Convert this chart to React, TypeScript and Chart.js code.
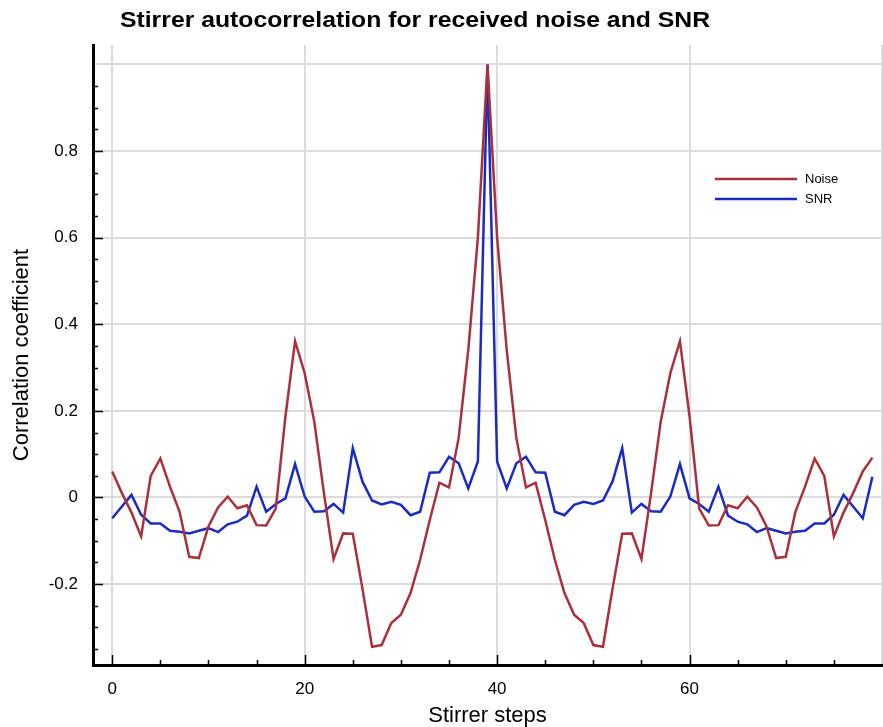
import React, { useEffect, useRef } from "react";
import { Chart, registerables } from "chart.js";

Chart.register(...registerables);

const steps = [
  0, 1, 2, 3, 4, 5, 6, 7, 8, 9, 10, 11, 12, 13, 14, 15, 16, 17, 18, 19,
  20, 21, 22, 23, 24, 25, 26, 27, 28, 29, 30, 31, 32, 33, 34, 35, 36, 37, 38, 39,
  40, 41, 42, 43, 44, 45, 46, 47, 48, 49, 50, 51, 52, 53, 54, 55, 56, 57, 58, 59,
  60, 61, 62, 63, 64, 65, 66, 67, 68, 69, 70, 71, 72, 73, 74, 75, 76, 77, 78, 79,
];

const noise = [
  0.06, 0.01, -0.035, -0.09, 0.05, 0.09, 0.025, -0.033, -0.137, -0.14,
  -0.067, -0.023, 0.002, -0.025, -0.018, -0.064, -0.065, -0.025, 0.187, 0.361,
  0.287, 0.175, 0.01, -0.142, -0.083, -0.084, -0.21, -0.345, -0.341, -0.29,
  -0.271, -0.221, -0.144, -0.052, 0.034, 0.023, 0.137, 0.34, 0.6, 1.0,
  0.6, 0.34, 0.137, 0.023, 0.034, -0.052, -0.144, -0.221, -0.271, -0.29,
  -0.341, -0.345, -0.21, -0.084, -0.083, -0.142, 0.01, 0.175, 0.287, 0.361,
  0.187, -0.025, -0.065, -0.064, -0.018, -0.025, 0.002, -0.023, -0.067, -0.14,
  -0.137, -0.033, 0.025, 0.09, 0.05, -0.09, -0.035, 0.01, 0.06, 0.092,
];

const snr = [
  -0.048, -0.021, 0.006, -0.04, -0.06, -0.06, -0.077, -0.079, -0.083, -0.077,
  -0.071, -0.08, -0.062, -0.056, -0.042, 0.025, -0.033, -0.015, -0.002, 0.077,
  0.002, -0.033, -0.032, -0.015, -0.035, 0.114, 0.037, -0.007, -0.016, -0.01,
  -0.017, -0.041, -0.033, 0.057, 0.058, 0.094, 0.079, 0.021, 0.083, 1.0,
  0.083, 0.021, 0.079, 0.094, 0.058, 0.057, -0.033, -0.041, -0.017, -0.01,
  -0.015, -0.007, 0.037, 0.114, -0.035, -0.015, -0.032, -0.033, 0.002, 0.077,
  -0.002, -0.015, -0.033, 0.025, -0.042, -0.056, -0.062, -0.08, -0.071, -0.077,
  -0.083, -0.079, -0.077, -0.06, -0.06, -0.04, 0.006, -0.021, -0.048, 0.048,
];

const xTicks = [0, 5, 10, 15, 20, 25, 30, 35, 40, 45, 50, 55, 60, 65, 70, 75, 80];
const xMajor = [0, 20, 40, 60, 80];
const xLabels = [0, 20, 40, 60];

const yTicks = [
  -0.35, -0.3, -0.25, -0.2, -0.15, -0.1, -0.05, 0, 0.05, 0.1, 0.15, 0.2, 0.25,
  0.3, 0.35, 0.4, 0.45, 0.5, 0.55, 0.6, 0.65, 0.7, 0.75, 0.8, 0.85, 0.9, 0.95, 1.0,
];
const yMajor = [-0.2, 0, 0.2, 0.4, 0.6, 0.8, 1.0];
const yLabels = [-0.2, 0, 0.2, 0.4, 0.6, 0.8];

const titleText = "Stirrer autocorrelation for received noise and SNR";
const seriesNames = ["Noise", "SNR"];
const seriesColors = ["#a9303c", "#1a2cc0"];

const FONT = "'Liberation Sans', Arial, Helvetica, sans-serif";

const near = (a: number, list: number[]) => list.some((v) => Math.abs(v - a) < 1e-6);

const decorPlugin = {
  id: "decor",
  afterDraw(chart: any) {
    const ctx = chart.ctx;
    const { left, bottom } = chart.chartArea;
    const xs = chart.scales.x;
    const ys = chart.scales.y;
    ctx.save();
    ctx.strokeStyle = "#000";
    ctx.lineWidth = 1.5;
    // inward tick marks
    xTicks.forEach((v) => {
      if (v >= 80) return;
      const px = Math.round(xs.getPixelForValue(v)) + 0.5;
      const len = near(v, xMajor) ? 10 : 5;
      ctx.beginPath();
      ctx.moveTo(px, bottom);
      ctx.lineTo(px, bottom - len);
      ctx.stroke();
    });
    yTicks.forEach((v) => {
      if (v >= 1.0) return;
      const py = Math.round(ys.getPixelForValue(v)) + 0.5;
      const len = near(v, yMajor) ? 10 : 5;
      ctx.beginPath();
      ctx.moveTo(left, py);
      ctx.lineTo(left + len, py);
      ctx.stroke();
    });
    // title (slightly widened to match the reference)
    ctx.fillStyle = "#000";
    ctx.font = `bold 22px ${FONT}`;
    ctx.textAlign = "center";
    ctx.textBaseline = "alphabetic";
    const w = ctx.measureText(titleText).width;
    const sx = 590 / w;
    ctx.save();
    ctx.translate(415, 27);
    ctx.scale(sx, 1);
    ctx.fillText(titleText, 0, 0);
    ctx.restore();
    // legend
    ctx.font = `13px ${FONT}`;
    ctx.textAlign = "left";
    ctx.textBaseline = "middle";
    seriesNames.forEach((name, i) => {
      const y = 179 + i * 20;
      ctx.strokeStyle = seriesColors[i];
      ctx.lineWidth = 2.5;
      ctx.beginPath();
      ctx.moveTo(715, y);
      ctx.lineTo(797, y);
      ctx.stroke();
      ctx.fillStyle = "#000";
      ctx.fillText(name, 805, y);
    });
    ctx.restore();
  },
};

export default function App() {
  const ref = useRef<HTMLCanvasElement | null>(null);

  useEffect(() => {
    if (!ref.current) return;
    const chart = new Chart(ref.current, {
      type: "line",
      data: {
        datasets: [
          {
            label: seriesNames[0],
            data: steps.map((s, i) => ({ x: s, y: noise[i] })),
            borderColor: seriesColors[0],
            backgroundColor: seriesColors[0],
            borderWidth: 2.5,
            pointRadius: 0,
            tension: 0,
          },
          {
            label: seriesNames[1],
            data: steps.map((s, i) => ({ x: s, y: snr[i] })),
            borderColor: seriesColors[1],
            backgroundColor: seriesColors[1],
            borderWidth: 2.5,
            pointRadius: 0,
            tension: 0,
          },
        ],
      },
      options: {
        responsive: false,
        animation: false,
        layout: { padding: { left: 0, right: 1, top: 45, bottom: 0 } },
        plugins: {
          legend: { display: false },
          title: { display: false },
          tooltip: { enabled: false },
        },
        scales: {
          x: {
            type: "linear",
            min: -2,
            max: 80,
            afterBuildTicks: (scale: any) => {
              scale.ticks = xTicks.map((v) => ({ value: v }));
            },
            afterFit: (scale: any) => {
              scale.height = 62;
              scale.paddingLeft = 0;
              scale.paddingRight = 0;
            },
            ticks: {
              autoSkip: false,
              maxRotation: 0,
              padding: 14,
              color: "#000",
              font: { family: FONT, size: 17 },
              callback: (v: any) => (near(Number(v), xLabels) ? String(v) : ""),
            },
            grid: {
              drawTicks: false,
              lineWidth: 2,
              color: (c: any) =>
                c.tick && near(c.tick.value, xMajor) ? "#dcdcdc" : "rgba(0,0,0,0)",
            },
            border: { display: true, color: "#000", width: 3 },
            title: {
              display: true,
              text: "Stirrer steps",
              color: "#000",
              font: { family: FONT, size: 22 },
              padding: { top: 0, bottom: -2 },
            },
          },
          y: {
            type: "linear",
            min: -0.387,
            max: 1.045,
            afterBuildTicks: (scale: any) => {
              scale.ticks = yTicks.map((v) => ({ value: v }));
            },
            afterFit: (scale: any) => {
              scale.width = 93;
              scale.paddingTop = 0;
              scale.paddingBottom = 0;
            },
            ticks: {
              autoSkip: false,
              padding: 15,
              color: "#000",
              font: { family: FONT, size: 17 },
              callback: (v: any) => {
                const n = Number(v);
                if (!near(n, yLabels)) return "";
                return Math.abs(n) < 1e-9 ? "0" : String(Math.round(n * 10) / 10);
              },
            },
            grid: {
              drawTicks: false,
              lineWidth: 2,
              color: (c: any) =>
                c.tick && near(c.tick.value, yMajor) ? "#dcdcdc" : "rgba(0,0,0,0)",
            },
            border: { display: true, color: "#000", width: 3 },
            title: {
              display: true,
              text: "Correlation coefficient",
              color: "#000",
              font: { family: FONT, size: 22 },
              padding: { top: 9, bottom: 0 },
            },
          },
        },
      },
      plugins: [decorPlugin],
    });
    return () => chart.destroy();
  }, []);

  return (
    <div style={{ position: "fixed", left: 0, top: 0, width: 883, height: 727, background: "#fff" }}>
      <canvas ref={ref} width={883} height={727} style={{ display: "block" }} />
    </div>
  );
}
